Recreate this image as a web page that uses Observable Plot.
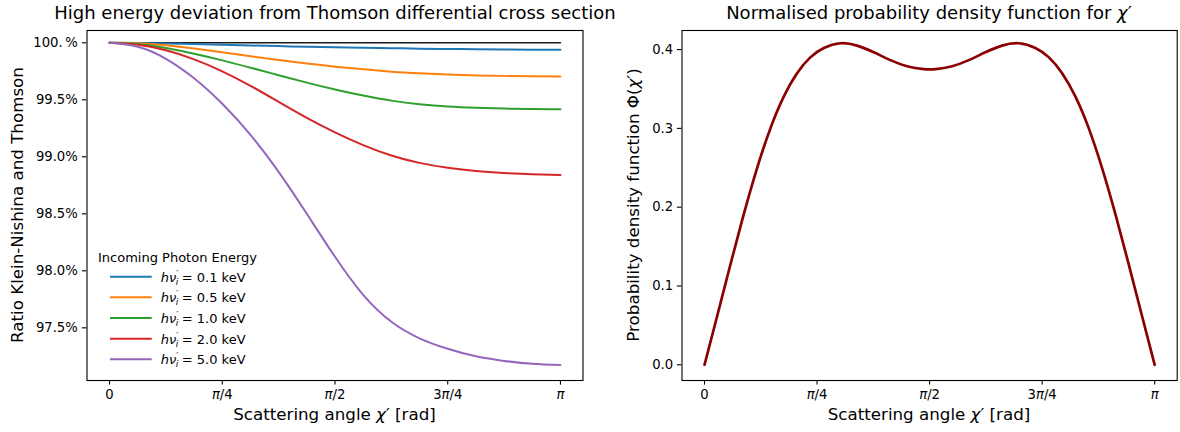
<!DOCTYPE html>
<html><head><meta charset="utf-8">
<script src="https://cdn.jsdelivr.net/npm/d3@7"></script>
<script src="https://cdn.jsdelivr.net/npm/@observablehq/plot@0.6"></script>
<style>
html,body{margin:0;padding:0;background:#fff;}
#wrap{position:relative;width:1180px;height:432px;overflow:hidden;background:#fff;}
#wrap > svg{position:absolute;top:0;}
</style></head>
<body><div id="wrap"></div>
<script>
// ---------- data (angles in units of π) ----------
const angleGrid = [0, 0.0625, 0.125, 0.1875, 0.25, 0.3125, 0.375, 0.4375, 0.5, 0.5625, 0.625, 0.6875, 0.75, 0.8125, 0.875, 0.9375, 1];
const energies = ["0.1", "0.5", "1.0", "2.0", "5.0"];
const ratio01 = [100, 99.998, 99.994, 99.989, 99.982, 99.976, 99.971, 99.965, 99.961, 99.956, 99.953, 99.949, 99.946, 99.943, 99.941, 99.940, 99.939];
const ratio05 = [100, 99.996, 99.978, 99.950, 99.917, 99.882, 99.849, 99.818, 99.791, 99.768, 99.747, 99.732, 99.721, 99.714, 99.710, 99.707, 99.704];
const ratio10 = [100, 99.989, 99.954, 99.904, 99.846, 99.782, 99.716, 99.651, 99.591, 99.538, 99.493, 99.461, 99.441, 99.430, 99.423, 99.419, 99.418];
const ratio20 = [100, 99.982, 99.934, 99.855, 99.750, 99.623, 99.482, 99.342, 99.215, 99.103, 99.012, 98.947, 98.904, 98.875, 98.858, 98.847, 98.841];
const ratio50 = [100, 99.965, 99.860, 99.689, 99.465, 99.193, 98.868, 98.500, 98.123, 97.789, 97.553, 97.408, 97.316, 97.250, 97.210, 97.185, 97.174];
const thomsonAngle = [0, 1];
const thomsonRatio = [100, 100];

const pdfAngle = [0, 0.028, 0.058, 0.087, 0.117, 0.147, 0.176, 0.206, 0.235, 0.265, 0.302, 0.339, 0.376, 0.413, 0.450, 0.487, 0.5, 0.513, 0.550, 0.587, 0.624, 0.661, 0.698, 0.735, 0.765, 0.794, 0.824, 0.853, 0.883, 0.913, 0.942, 0.972, 1];
const pdfValue = [0, 0.0616, 0.1282, 0.1906, 0.2500, 0.3010, 0.3404, 0.3704, 0.3901, 0.4021, 0.4080, 0.4050, 0.3965, 0.3866, 0.3789, 0.3752, 0.3748, 0.3752, 0.3789, 0.3866, 0.3965, 0.4050, 0.4080, 0.4021, 0.3901, 0.3704, 0.3404, 0.3010, 0.2500, 0.1906, 0.1282, 0.0616, 0];

const xTicks = [0, 0.25, 0.5, 0.75, 1];
const xTickLabels = ["0", "π/4", "π/2", "3π/4", "π"];
const yTicksLeft = [97.5, 98, 98.5, 99, 99.5, 100];
const yTickLabelsLeft = ["97.5%", "98.0%", "98.5%", "99.0%", "99.5%", "100.\u2009%"];
const yTicksRight = [0, 0.1, 0.2, 0.3, 0.4];
const yTickLabelsRight = ["0.0", "0.1", "0.2", "0.3", "0.4"];

// ---------- styles ----------
const colors = ["#1f77b4", "#ff7f0e", "#2ca02c", "#d62728", "#9467bd"];
const FONT = "DejaVu Sans";

const seriesList = [ratio01, ratio05, ratio10, ratio20, ratio50];
const rows = [];
seriesList.forEach((s, i) => angleGrid.forEach((t, j) => rows.push({t, v: s[j], e: energies[i]})));
const thomson = thomsonAngle.map((t, j) => ({t, v: thomsonRatio[j]}));
const pdf = pdfAngle.map((t, j) => ({t, v: pdfValue[j]}));

const baseStyle = {fontFamily: FONT, fontSize: "13.2px", color: "black", background: "transparent", overflow: "visible"};

const left = Plot.plot({
  width: 590, height: 432,
  marginLeft: 86.5, marginRight: 7.5, marginTop: 30, marginBottom: 52,
  style: baseStyle,
  x: {domain: [-0.05, 1.05]},
  y: {domain: [97.038, 100.108]},
  color: {domain: energies, range: colors},
  marks: [
    Plot.line(thomson, {x: "t", y: "v", stroke: "#1a1a1a", strokeWidth: 1.4}),
    Plot.line(rows, {x: "t", y: "v", z: "e", stroke: "e", strokeWidth: 2, curve: "natural"}),
    Plot.frame({stroke: "black", strokeWidth: 1.1}),
    Plot.axisX({ticks: xTicks, tickFormat: d => xTickLabels[xTicks.indexOf(d)], tickSize: 4.6, tickPadding: 5, label: null, strokeWidth: 1.1}),
    Plot.axisY({ticks: yTicksLeft, tickFormat: d => yTickLabelsLeft[yTicksLeft.indexOf(d)], tickSize: 4.6, tickPadding: 4.6, label: null, strokeWidth: 1.1})
  ]
});

const right = Plot.plot({
  width: 590, height: 432,
  marginLeft: 91.5, marginRight: 3.3, marginTop: 30, marginBottom: 52,
  style: baseStyle,
  x: {domain: [-0.05, 1.05]},
  y: {domain: [-0.0199, 0.4242]},
  marks: [
    Plot.line(pdf, {x: "t", y: "v", stroke: "#8b0000", strokeWidth: 2.7, curve: "natural"}),
    Plot.frame({stroke: "black", strokeWidth: 1.1}),
    Plot.axisX({ticks: xTicks, tickFormat: d => xTickLabels[xTicks.indexOf(d)], tickSize: 4.6, tickPadding: 5, label: null, strokeWidth: 1.1}),
    Plot.axisY({ticks: yTicksRight, tickFormat: d => yTickLabelsRight[yTicksRight.indexOf(d)], tickSize: 4.6, tickPadding: 4.2, label: null, strokeWidth: 1.1})
  ]
});

const wrap = document.getElementById("wrap");
left.style.left = "0px";
right.style.left = "590px";
wrap.appendChild(left);
wrap.appendChild(right);

// italic π in tick labels
for (const svg of [left, right]) {
  d3.select(svg).selectAll('g[aria-label="x-axis tick label"] text').each(function () {
    const s = this.textContent;
    this.innerHTML = s.replace(/π/g, '<tspan font-style="italic">π</tspan>');
  });
}

// ---------- overlay texts ----------
const ov = d3.select(wrap).append("svg")
  .attr("width", 1180).attr("height", 432)
  .style("left", "0px").style("pointer-events", "none")
  .attr("font-family", FONT).attr("fill", "black");

ov.append("text").attr("x", 335).attr("y", 19).attr("text-anchor", "middle").attr("font-size", 18)
  .text("High energy deviation from Thomson differential cross section");
ov.append("text").attr("x", 929).attr("y", 19).attr("text-anchor", "middle").attr("font-size", 18)
  .html('Normalised probability density function for <tspan font-style="italic">χ</tspan>′');

for (const cx of [334.5, 929]) {
  ov.append("text").attr("x", cx).attr("y", 419.6).attr("text-anchor", "middle").attr("font-size", 16.7)
    .html('Scattering angle <tspan font-style="italic">χ</tspan>′ [rad]');
}
ov.append("text").attr("transform", "translate(22.5,205) rotate(-90)").attr("text-anchor", "middle").attr("font-size", 16.7)
  .text("Ratio Klein-Nishina and Thomson");
ov.append("text").attr("transform", "translate(639,205) rotate(-90)").attr("text-anchor", "middle").attr("font-size", 16.7)
  .html('Probability density function Φ(<tspan font-style="italic">χ</tspan>′)');

// legend
ov.append("text").attr("x", 98).attr("y", 262).attr("font-size", 13).text("Incoming Photon Energy");
energies.forEach((e, i) => {
  const y = 276.7 + i * 20.65;
  ov.append("line").attr("x1", 110).attr("x2", 151.7).attr("y1", y).attr("y2", y)
    .attr("stroke", colors[i]).attr("stroke-width", 2);
  ov.append("text").attr("x", 160.7).attr("y", y + 5).attr("font-size", 13)
    .html('<tspan font-style="italic">hν</tspan><tspan font-size="9" dy="-5">′</tspan><tspan font-size="9" font-style="italic" dx="-2.5" dy="8">i</tspan><tspan dy="-3" dx="3.5">= ' + e + ' keV</tspan>');
});
</script>
</body></html>
